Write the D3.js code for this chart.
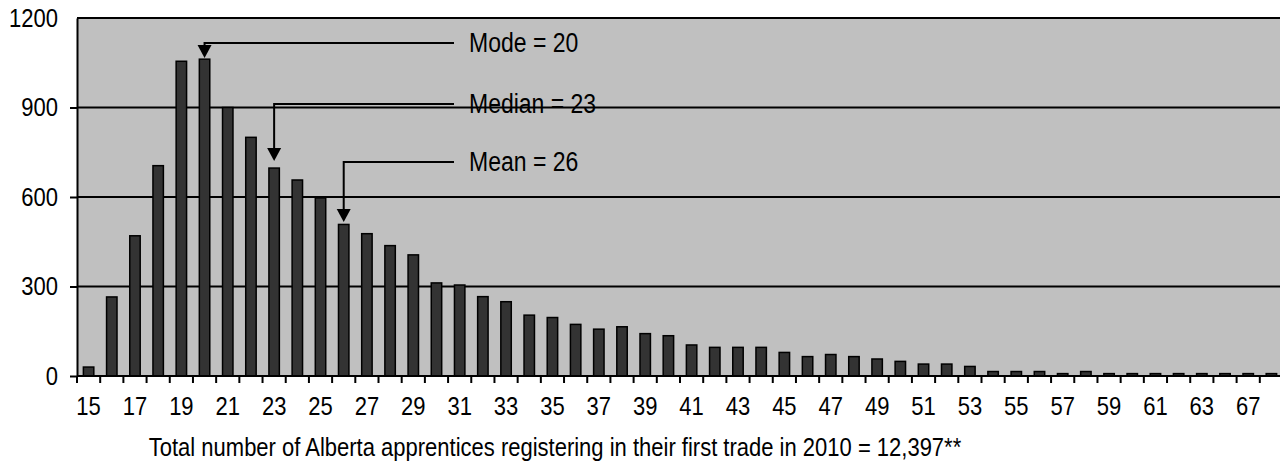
<!DOCTYPE html>
<html>
<head>
<meta charset="utf-8">
<script src="https://cdn.jsdelivr.net/npm/d3@7"></script>
<style>
  body { margin: 0; background: #fff; }
  text { font-family: "Liberation Sans", Arial, sans-serif; fill: #000; }
</style>
</head>
<body>
<svg id="chart" width="1280" height="464"></svg>
<script>
// ages of apprentices (65 and 66 not present in the source)
var ages = [15, 16, 17, 18, 19, 20, 21, 22, 23, 24, 25, 26, 27, 28, 29, 30, 31, 32, 33, 34,
            35, 36, 37, 38, 39, 40, 41, 42, 43, 44, 45, 46, 47, 48, 49, 50, 51, 52, 53, 54,
            55, 56, 57, 58, 59, 60, 61, 62, 63, 64, 67, 68];
var counts = [30, 265, 470, 705, 1055, 1062, 900, 800, 697, 657, 597, 508, 477, 437, 406, 312, 305, 266, 249, 204,
              196, 173, 157, 165, 142, 135, 104, 96, 96, 96, 79, 65, 72, 65, 57, 49, 40, 40, 32, 15,
              15, 15, 8, 15, 8, 8, 8, 8, 8, 8, 8, 8];
var yTicks = [0, 300, 600, 900, 1200];

// callouts
var noteLabels = ["Mode = 20", "Median = 23", "Mean = 26"];
var noteAges = [20, 23, 26];
var noteLineVals = [1116, 912, 717];
var noteTipVals = [1066, 721, 516];

var title = "Total number of Alberta apprentices registering in their first trade in 2010 = 12,397**";

var mLeft = 77, mTop = 18, mRight = 1283, mBottom = 376;
var stretch = "scale(1,1.17)";   // source text is a bit taller than it is wide
var svg = d3.select("#chart");

var x = d3.scaleBand().domain(ages).range([mLeft, mRight]).paddingInner(0.55).paddingOuter(0.275);
var y = d3.scaleLinear().domain([0, 1200]).range([mBottom, mTop]);

// plot background
svg.append("rect")
    .attr("x", mLeft).attr("y", mTop)
    .attr("width", mRight - mLeft).attr("height", mBottom - mTop)
    .attr("fill", "#c0c0c0");

// gridlines
svg.append("g").selectAll("line").data(yTicks.slice(1)).enter().append("line")
    .attr("x1", mLeft).attr("x2", mRight)
    .attr("y1", function (d) { return y(d); })
    .attr("y2", function (d) { return y(d); })
    .attr("stroke", "#000").attr("stroke-width", 1.8);

// bars
svg.append("g").selectAll("rect").data(counts).enter().append("rect")
    .attr("x", function (d, i) { return x(ages[i]); })
    .attr("y", function (d) { return y(d); })
    .attr("width", x.bandwidth())
    .attr("height", function (d) { return mBottom - y(d); })
    .attr("fill", "#333333")
    .attr("stroke", "#000").attr("stroke-width", 1.5);

// y axis
var yAxis = svg.append("g")
    .attr("transform", "translate(" + mLeft + ",0)")
    .call(d3.axisLeft(y).tickValues(yTicks).tickFormat(d3.format("d")).tickSize(7).tickSizeOuter(0).tickPadding(12));
yAxis.select(".domain").attr("stroke", "#000").attr("stroke-width", 2);
yAxis.selectAll(".tick line").attr("stroke", "#000").attr("stroke-width", 2);
yAxis.selectAll("text")
    .attr("font-size", 22)
    .attr("transform", stretch)
    .style("font-family", "Liberation Sans, Arial, sans-serif");
yAxis.selectAll(".tick").filter(function (d) { return d === 1200; }).select("line").remove();

// x axis: ticks between categories, labels every other category
var xg = svg.append("g");
var step = x.step();
var edges = ages.map(function (a) { return x(a) - (step - x.bandwidth()) / 2; });
xg.append("line")
    .attr("x1", mLeft).attr("x2", mRight)
    .attr("y1", mBottom).attr("y2", mBottom)
    .attr("stroke", "#000").attr("stroke-width", 2);
xg.selectAll("line.tk").data(edges).enter().append("line")
    .attr("class", "tk")
    .attr("x1", function (d) { return d; }).attr("x2", function (d) { return d; })
    .attr("y1", mBottom).attr("y2", mBottom + 7)
    .attr("stroke", "#000").attr("stroke-width", 2);
xg.selectAll("text").data(ages.filter(function (a, i) { return i % 2 === 0; })).enter().append("text")
    .attr("transform", function (d) {
        return "translate(" + (x(d) + x.bandwidth() / 2) + ",415) " + stretch;
    })
    .attr("text-anchor", "middle")
    .attr("font-size", 22)
    .text(function (d) { return d; });

// callout arrows
var notes = svg.append("g");
noteLabels.forEach(function (lab, i) {
    var cx = x(noteAges[i]) + x.bandwidth() / 2;
    var ly = y(noteLineVals[i]);
    var ty = y(noteTipVals[i]);
    notes.append("path")
        .attr("d", "M454," + ly + "H" + cx + "V" + (ty - 10))
        .attr("fill", "none").attr("stroke", "#000").attr("stroke-width", 2);
    notes.append("path")
        .attr("d", "M" + (cx - 7) + "," + (ty - 13) + "L" + (cx + 7) + "," + (ty - 13) + "L" + cx + "," + ty + "Z")
        .attr("fill", "#000");
    notes.append("text")
        .attr("transform", "translate(469," + (ly + 9) + ") " + stretch)
        .attr("font-size", 23)
        .text(lab);
});

svg.append("text")
    .attr("transform", "translate(555,456) " + stretch)
    .attr("text-anchor", "middle")
    .attr("font-size", 22)
    .text(title);
</script>
</body>
</html>
